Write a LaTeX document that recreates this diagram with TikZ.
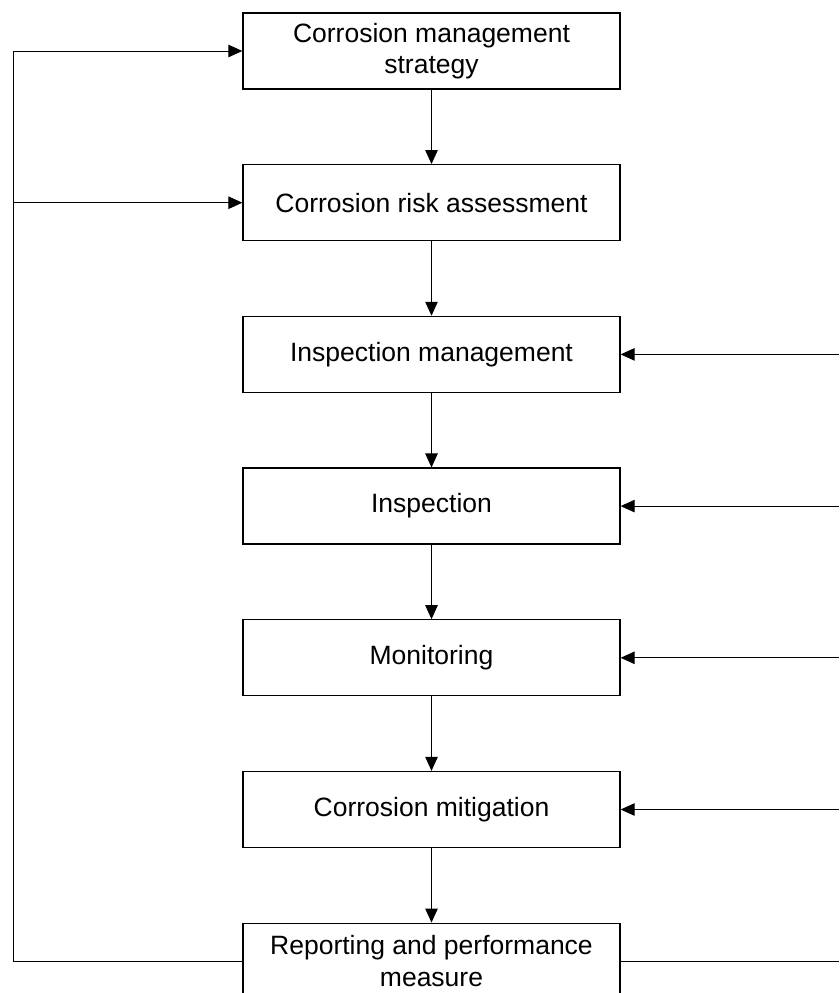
\documentclass[tikz,border=0pt]{standalone}
\usepackage{fontspec}
\setmainfont{Liberation Sans}
\usepackage{tikz}
\usetikzlibrary{arrows.meta, positioning}
\tikzset{
  stagebox/.style={
    rectangle, draw=black, line width=1.3pt,
    minimum width=377pt, minimum height=76pt,
    inner sep=0pt, align=center,
    font=\fontsize{26.5}{31.5}\selectfont,
  },
  arrow/.style={-{Triangle[length=14pt, width=12.5pt]}, line width=1pt},
  link/.style={line width=1pt},
}

\begin{document}
\begin{tikzpicture}[x=1pt, y=-1pt, node distance=74.4pt]
  \useasboundingbox (0,0) rectangle (839,993);

  % Main column of stages
  \node[stagebox] (cms) at (431.5,51) {Corrosion management\\strategy};
  \node[stagebox, below=of cms] (cra) {Corrosion risk assessment};
  \node[stagebox, below=of cra] (imgt) {Inspection management};
  \node[stagebox, below=of imgt] (insp) {Inspection};
  \node[stagebox, below=of insp] (mon) {Monitoring};
  \node[stagebox, below=of mon] (mit) {Corrosion mitigation};
  \node[stagebox, below=of mit] (rep) {Reporting and performance\\measure};

  % Edges of the feedback loops
  \coordinate (ledge) at (13,0);
  \coordinate (redge) at (839,0);

  % Downward flow
  \draw[arrow] (cms) -- (cra);
  \draw[arrow] (cra) -- (imgt);
  \draw[arrow] (imgt) -- (insp);
  \draw[arrow] (insp) -- (mon);
  \draw[arrow] (mon) -- (mit);
  \draw[arrow] (mit) -- (rep);

  % Left feedback loop
  \draw[arrow] (rep.west) -- (rep.west -| ledge) |- (cms.west);
  \draw[arrow] (cra.west -| ledge) -- (cra.west);

  % Right feedback loop
  \draw[link] (rep.east) -- (rep.east -| redge);
  \draw[arrow] (imgt.east -| redge) -- (imgt.east);
  \draw[arrow] (insp.east -| redge) -- (insp.east);
  \draw[arrow] (mon.east -| redge) -- (mon.east);
  \draw[arrow] (mit.east -| redge) -- (mit.east);

\end{tikzpicture}
\end{document}
